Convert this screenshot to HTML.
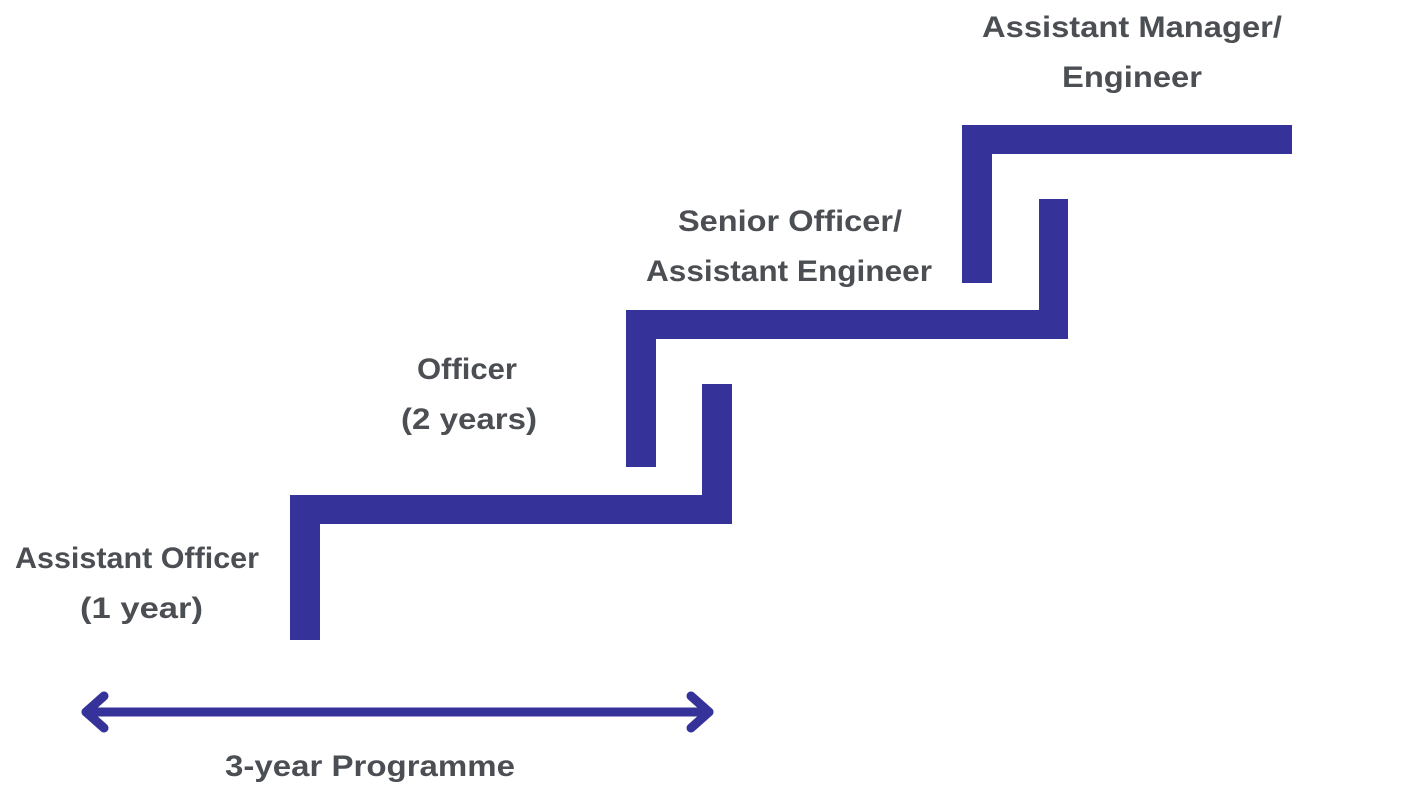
<!DOCTYPE html>
<html>
<head>
<meta charset="utf-8">
<style>
  html, body { margin: 0; padding: 0; background: #ffffff; }
  body { width: 1407px; height: 791px; overflow: hidden; }
  svg { display: block; }
  text { font-family: "Liberation Sans", "DejaVu Sans", sans-serif; font-weight: bold; fill: #4b4e53; font-size: 30px; }
</style>
</head>
<body>
<svg width="1407" height="791" viewBox="0 0 1407 791" xmlns="http://www.w3.org/2000/svg">
  <rect x="0" y="0" width="1407" height="791" fill="#ffffff"/>

  <!-- Step 1 -->
  <polygon fill="#353399" points="290,640 290,495 702,495 702,384 732,384 732,524 320,524 320,640"/>
  <!-- Step 2 -->
  <polygon fill="#353399" points="626,467 626,310 1039,310 1039,199 1068,199 1068,339 656,339 656,467"/>
  <!-- Step 3 -->
  <polygon fill="#353399" points="962,283 962,125 1292,125 1292,154 992,154 992,283"/>

  <!-- Double arrow -->
  <g stroke="#353399" stroke-width="9" stroke-linecap="round" stroke-linejoin="round" fill="none">
    <line x1="86" y1="712" x2="709" y2="712"/>
    <polyline points="104,696 86,712 104,728"/>
    <polyline points="691,696 709,712 691,728"/>
  </g>

  <!-- Labels -->
  <text x="15" y="568" textLength="244" lengthAdjust="spacingAndGlyphs">Assistant Officer</text>
  <text x="80" y="618" textLength="123" lengthAdjust="spacingAndGlyphs">(1 year)</text>

  <text x="417" y="379" textLength="100" lengthAdjust="spacingAndGlyphs">Officer</text>
  <text x="401" y="429" textLength="136" lengthAdjust="spacingAndGlyphs">(2 years)</text>

  <text x="678" y="231" textLength="224" lengthAdjust="spacingAndGlyphs">Senior Officer/</text>
  <text x="646" y="281" textLength="286" lengthAdjust="spacingAndGlyphs">Assistant Engineer</text>

  <text x="982" y="37" textLength="300" lengthAdjust="spacingAndGlyphs">Assistant Manager/</text>
  <text x="1062" y="87" textLength="140" lengthAdjust="spacingAndGlyphs">Engineer</text>

  <text x="225" y="776" textLength="290" lengthAdjust="spacingAndGlyphs">3-year Programme</text>
</svg>
</body>
</html>
